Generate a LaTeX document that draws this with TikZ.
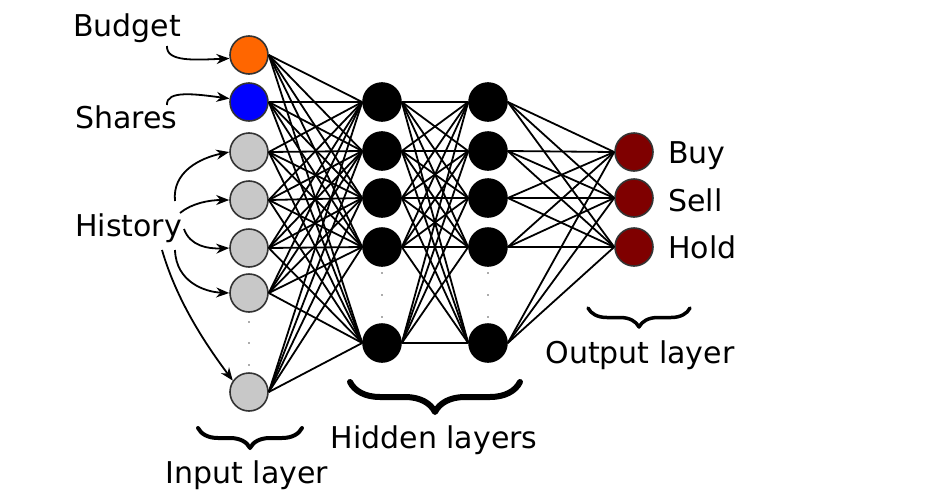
\documentclass[tikz,border=0pt]{standalone}
\usepackage{fontspec}
\setmainfont{DejaVu Sans}
\usetikzlibrary{arrows.meta,decorations.pathreplacing}
\definecolor{budgetc}{HTML}{FF6600}
\definecolor{sharesc}{HTML}{0000FF}
\definecolor{histc}{HTML}{C8C8C8}
\definecolor{outc}{HTML}{7F0000}
\definecolor{rimc}{HTML}{333333}
\begin{document}
\begin{tikzpicture}[x=1pt,y=-1pt,
  neuron/.style={circle,minimum size=38pt,inner sep=0pt,line width=1.6pt},
  inp/.style={neuron,draw=rimc,fill=histc},
  hid/.style={neuron,draw=black,fill=black},
  outn/.style={neuron,draw=black!80,fill=outc},
  lbl/.style={font=\fontsize{30}{36}\selectfont,inner sep=0pt,anchor=base west},
  lbc/.style={font=\fontsize{30}{36}\selectfont,inner sep=0pt,anchor=base},
  wire/.style={line width=1.8pt,black},
  arr/.style={line width=1.8pt,-{Stealth[length=13pt,width=10pt]}},
  dot/.style={rectangle,fill=gray!65,inner sep=0pt,minimum size=2.6pt},
  bracestyle/.style={decorate,line cap=round,line join=round}
]
\useasboundingbox (0,0) rectangle (943,501);

% input layer
\node[neuron,draw=rimc,fill=budgetc] (i1) at (249,55) {};
\node[neuron,draw=rimc,fill=sharesc] (i2) at (249,102) {};
\node[inp] (i3) at (249,152) {};
\node[inp] (i4) at (249,200) {};
\node[inp] (i5) at (249,248) {};
\node[inp] (i6) at (249,293) {};
\node[inp] (i7) at (249,392) {};
\node[dot] (di1) at (249,322) {};
\node[dot] (di2) at (249,343) {};
\node[dot] (di3) at (249,365) {};

% hidden layers
\foreach \n/\y in {1/102,2/151,3/198,4/247,5/343}{
  \node[hid] (h\n) at (382,\y) {};
  \node[hid] (g\n) at (488,\y) {};
}
\foreach \n/\y in {1/273,2/295,3/317}{
  \node[dot] (dh\n) at (382,\y) {};
  \node[dot] (dg\n) at (488,\y) {};
}

% output layer
\node[outn] (o1) at (634,152) {};
\node[outn] (o2) at (634,198) {};
\node[outn] (o3) at (634,247) {};

% connections
\foreach \a in {1,...,7}{
  \foreach \b in {1,...,5}{
    \draw[wire] (i\a.east) -- (h\b.west);
  }
}
\foreach \a in {1,...,5}{
  \foreach \b in {1,...,5}{
    \draw[wire] (h\a.east) -- (g\b.west);
  }
}
\foreach \a in {1,...,5}{
  \foreach \b in {1,...,3}{
    \draw[wire] (g\a.east) -- (o\b.west);
  }
}

% labels
\node[lbl] (lbudget) at (73,36) {Budget};
\node[lbl] (lshares) at (75,128) {Shares};
\node[lbl] (lhistory) at (75,236) {History};
\node[lbl] (lbuy) at (668,163) {Buy};
\node[lbl] (lsell) at (668,211) {Sell};
\node[lbl] (lhold) at (668,258) {Hold};
\node[lbc] (linput) at (247,483) {Input layer};
\node[lbc] (lhidden) at (434,448) {Hidden layers};
\node[lbc] (loutput) at (640,363) {Output layer};

% label arrows
\coordinate (cb) at (167,46);
\coordinate (cs) at (167,105);
\coordinate (ch1) at (175,201);
\coordinate (ch2) at (180,213);
\coordinate (ch3) at (184,229);
\coordinate (ch4) at (175,250);
\coordinate (ch5) at (162,250);
\draw[arr] (cb) .. controls (166,62) and (195,60) .. (i1.190);
\draw[arr] (cs) .. controls (166,90) and (195,94) .. (i2.170);
\draw[arr] (ch1) .. controls (172,172) and (200,158) .. (i3.west);
\draw[arr] (ch2) .. controls (192,203) and (210,200) .. (i4.west);
\draw[arr] (ch3) .. controls (190,246) and (208,249) .. (i5.west);
\draw[arr] (ch4) .. controls (176,282) and (205,292) .. (i6.west);
\draw[arr] (ch5) .. controls (178,305) and (210,350) .. (i7.145);

% braces
\draw[bracestyle,decoration={brace,amplitude=30pt},line width=6pt] (520,382) -- (350,382);
\draw[bracestyle,decoration={brace,amplitude=20pt},line width=4pt] (302,428) -- (198,428);
\draw[bracestyle,decoration={brace,amplitude=19pt},line width=3.5pt] (690,308) -- (588,308);
\end{tikzpicture}
\end{document}
